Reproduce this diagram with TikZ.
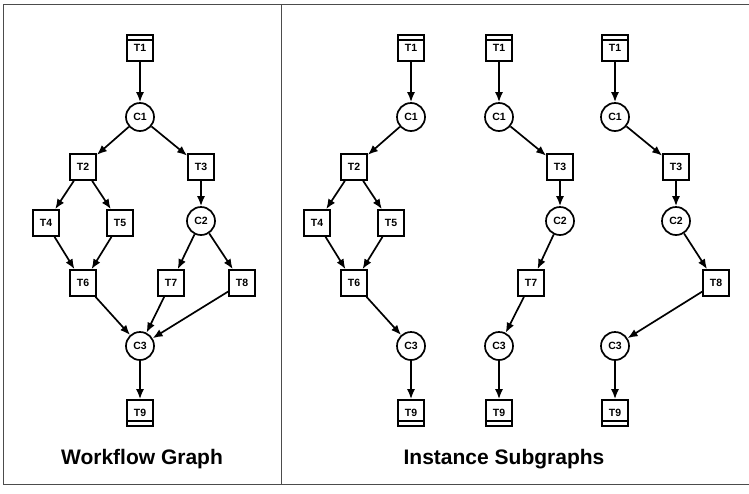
\documentclass[tikz,border=0pt]{standalone}
\usepackage{fontspec}
\setmainfont{Liberation Sans}
\usetikzlibrary{arrows.meta,positioning}
\tikzstyle{task}=[draw, rectangle, line width=1.7pt, fill=white,
  minimum size=26pt, inner sep=0pt, font=\fontsize{10.5}{12}\selectfont\bfseries]
\tikzstyle{cond}=[task, circle, minimum size=28pt]
\tikzstyle{tstart}=[task, path picture={\draw[line width=1.3pt]
  ([yshift=-5pt]path picture bounding box.north west) --
  ([yshift=-5pt]path picture bounding box.north east);}]
\tikzstyle{tstop}=[task, path picture={\draw[line width=1.3pt]
  ([yshift=5pt]path picture bounding box.south west) --
  ([yshift=5pt]path picture bounding box.south east);}]
\tikzstyle{line} = [draw, line width=1.7pt, -{Latex[length=10pt,width=8pt]}]
\tikzstyle{frame} = [draw=black!70, line width=0.9pt]
\tikzstyle{caption} = [font=\fontsize{21}{25}\selectfont\bfseries]
\newcommand{\tsk}[2]{node (#1)[task]{#2}}
\newcommand{\cnd}[2]{node (#1)[cond]{#2}}
\newcommand{\tbeg}[2]{node (#1)[tstart]{#2}}
\newcommand{\tfin}[2]{node (#1)[tstop]{#2}}

\begin{document}
\begin{tikzpicture}[x=1pt,y=-1pt]
	\useasboundingbox (0,0) rectangle (749,493);

	% Frame
	\path [frame] (749,4) -- (3,4) -- (3,484) -- (749,484);
	\path [frame] (281,4) -- (281,484);

	% Workflow graph
	\path (140,48) \tbeg{wt1}{T1};
	\path (140,117) \cnd{wc1}{C1};
	\path (83,167) \tsk{wt2}{T2};
	\path (201,167) \tsk{wt3}{T3};
	\path (46,223) \tsk{wt4}{T4};
	\path (120,223) \tsk{wt5}{T5};
	\path (201,221) \cnd{wc2}{C2};
	\path (83,283) \tsk{wt6}{T6};
	\path (171,283) \tsk{wt7}{T7};
	\path (242,283) \tsk{wt8}{T8};
	\path (140,346) \cnd{wc3}{C3};
	\path (140,413) \tfin{wt9}{T9};

	% Instance subgraph 1
	\path (411,48) \tbeg{at1}{T1};
	\path (411,117) \cnd{ac1}{C1};
	\path (354,167) \tsk{at2}{T2};
	\path (317,223) \tsk{at4}{T4};
	\path (391,223) \tsk{at5}{T5};
	\path (354,283) \tsk{at6}{T6};
	\path (411,346) \cnd{ac3}{C3};
	\path (411,413) \tfin{at9}{T9};

	% Instance subgraph 2
	\path (499,48) \tbeg{bt1}{T1};
	\path (499,117) \cnd{bc1}{C1};
	\path (560,167) \tsk{bt3}{T3};
	\path (560,221) \cnd{bc2}{C2};
	\path (531,283) \tsk{bt7}{T7};
	\path (499,346) \cnd{bc3}{C3};
	\path (499,413) \tfin{bt9}{T9};

	% Instance subgraph 3
	\path (615,48) \tbeg{ct1}{T1};
	\path (615,117) \cnd{cc1}{C1};
	\path (676,167) \tsk{ct3}{T3};
	\path (676,221) \cnd{cc2}{C2};
	\path (716,283) \tsk{ct8}{T8};
	\path (615,346) \cnd{cc3}{C3};
	\path (615,413) \tfin{ct9}{T9};

	% Captions
	\node [caption] (wcap) at (142,459) {Workflow Graph};
	\node [caption] (icap) at (504,459) {Instance Subgraphs};

	% Arrows of the workflow graph
	\path [line] (wt1) -- (wc1);
	\path [line] (wc1) -- (wt2);
	\path [line] (wc1) -- (wt3);
	\path [line] (wt2) -- (wt4);
	\path [line] (wt2) -- (wt5);
	\path [line] (wt4) -- (wt6);
	\path [line] (wt5) -- (wt6);
	\path [line] (wt3) -- (wc2);
	\path [line] (wc2) -- (wt7);
	\path [line] (wc2) -- (wt8);
	\path [line] (wt6) -- (wc3);
	\path [line] (wt7) -- (wc3);
	\path [line] (wt8) -- (wc3);
	\path [line] (wc3) -- (wt9);

	% Arrows of the instance subgraphs
	\path [line] (at1) -- (ac1);
	\path [line] (ac1) -- (at2);
	\path [line] (at2) -- (at4);
	\path [line] (at2) -- (at5);
	\path [line] (at4) -- (at6);
	\path [line] (at5) -- (at6);
	\path [line] (at6) -- (ac3);
	\path [line] (ac3) -- (at9);

	\path [line] (bt1) -- (bc1);
	\path [line] (bc1) -- (bt3);
	\path [line] (bt3) -- (bc2);
	\path [line] (bc2) -- (bt7);
	\path [line] (bt7) -- (bc3);
	\path [line] (bc3) -- (bt9);

	\path [line] (ct1) -- (cc1);
	\path [line] (cc1) -- (ct3);
	\path [line] (ct3) -- (cc2);
	\path [line] (cc2) -- (ct8);
	\path [line] (ct8) -- (cc3);
	\path [line] (cc3) -- (ct9);

\end{tikzpicture}
\end{document}
